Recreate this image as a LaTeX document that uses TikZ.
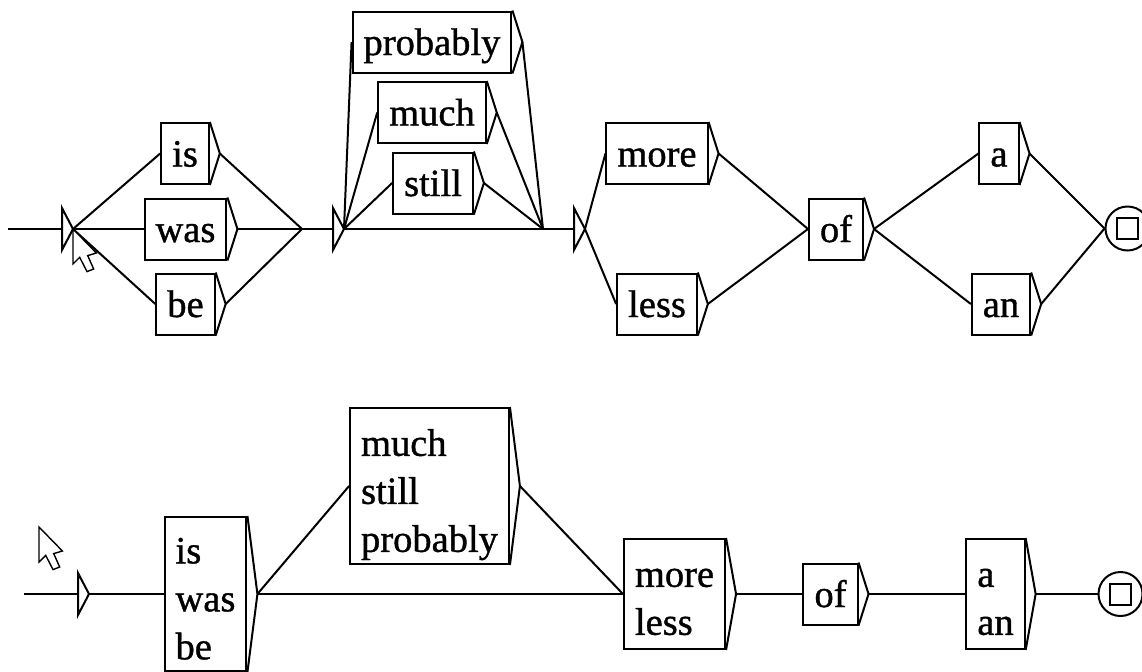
\documentclass[tikz,border=0pt]{standalone}
\usepackage{fontspec}
\setmainfont{Liberation Serif}[FakeBold=1]

\newcommand{\wordfont}{\fontsize{19.25pt}{24pt}\selectfont}
\newcommand{\lift}[1]{\rule{0pt}{#1}}

\tikzset{
  word/.style={draw, rectangle, inner xsep=5.5pt, inner ysep=0pt,
    minimum height=30.5pt, text height=15pt, text depth=2pt, font=\wordfont},
  words/.style={word, align=left, text height=, text depth=},
  final/.style={draw, circle, minimum size=22pt, inner sep=0pt,
    path picture={\draw (path picture bounding box.center)
      +(-5.25pt,-5.25pt) rectangle +(5.25pt,5.25pt);}},
  mousearrow/.pic={
    \draw[fill=white, line width=0.7pt] (0,0) -- (0,35) -- (6.7,28.3)
      -- (14,42.6) -- (20.7,40) -- (14.7,26.6) -- (23.4,24) -- cycle;}
}

\begin{document}
\begin{tikzpicture}[x=0.5pt, y=-0.5pt, line width=1pt]
  \useasboundingbox (0,0) rectangle (1142,671);

  %% Full graph
  \coordinate (entry) at (8,229);
  \coordinate (init) at (62,229);
  \coordinate (e1-in) at (302,229);
  \coordinate (e1) at (333,229);
  \coordinate (e2-in) at (543,229);
  \coordinate (e2) at (574,229);

  \node[word] (is) at (185,153.5) {is};
  \node[word] (was) at (185.5,229) {was};
  \node[word] (be) at (185.5,304) {be};
  \node[word] (probably) at (432,42) {probably};
  \node[word] (much) at (432,112.5) {much};
  \node[word] (still) at (433,183) {still};
  \node[word] (more) at (657,153.5) {more};
  \node[word] (less) at (657,304) {less};
  \node[word] (of) at (836,229) {of};
  \node[word] (a) at (999,153.5) {a};
  \node[word] (an) at (1001,304) {an};
  \node[final] (fin) at (1127.5,228.5) {};

  %% Factorized graph
  \coordinate (entry2) at (24,594);
  \coordinate (init2) at (78,594);

  \node[words, minimum height=77pt] (forms) at (205.5,594)
    {\lift{17.5pt}is\\was\\be};
  \node[words, minimum height=78pt] (adverbs) at (429.5,486)
    {\lift{22pt}much\\still\\probably};
  \node[words, minimum height=55pt] (comp) at (674.5,594)
    {\lift{17pt}more\\less};
  \node[word] (of2) at (830.5,594) {of};
  \node[words, minimum height=55pt] (art) at (995.5,594)
    {\lift{17pt}a\\an};
  \node[final] (fin2) at (1120.5,594) {};

  %% Output triangles
  \foreach \n in {is,was,be,probably,much,still,more,less,of,a,an,
                  forms,adverbs,comp,of2,art} {
    \path (\n.east) ++(10,0) coordinate (\n-tip);
    \draw (\n.north east) -- (\n-tip) -- (\n.south east);
  }

  %% Empty boxes
  \foreach \e in {init,e1,e2,init2} {
    \draw (\e) ++(0,-21) -- ++(11,21) coordinate (\e-out) -- ++(-11,21) -- cycle;
  }

  %% Transitions, full graph
  \draw (entry) -- (init);
  \draw (init-out) -- (is.west);
  \draw (init-out) -- (was.west);
  \draw (init-out) -- (be.west);
  \draw (is-tip) -- (e1-in);
  \draw (was-tip) -- (e1-in);
  \draw (be-tip) -- (e1-in);
  \draw (e1-in) -- (e1);
  \draw (e1-out) -- (probably.west);
  \draw (e1-out) -- (much.west);
  \draw (e1-out) -- (still.west);
  \draw (e1-out) -- (e2-in);
  \draw (probably-tip) -- (e2-in);
  \draw (much-tip) -- (e2-in);
  \draw (still-tip) -- (e2-in);
  \draw (e2-in) -- (e2);
  \draw (e2-out) -- (more.west);
  \draw (e2-out) -- (less.west);
  \draw (more-tip) -- (of.west);
  \draw (less-tip) -- (of.west);
  \draw (of-tip) -- (a.west);
  \draw (of-tip) -- (an.west);
  \draw (a-tip) -- (fin.west);
  \draw (an-tip) -- (fin.west);

  %% Transitions, factorized graph
  \draw (entry2) -- (init2);
  \draw (init2-out) -- (forms.west);
  \draw (forms-tip) -- (adverbs.west);
  \draw (forms-tip) -- (comp.west);
  \draw (adverbs-tip) -- (comp.west);
  \draw (comp-tip) -- (of2.west);
  \draw (of2-tip) -- (art.west);
  \draw (art-tip) -- (fin2.west);

  %% Mouse pointers
  \pic at (73,229) {mousearrow};
  \pic at (39,527) {mousearrow};

\end{tikzpicture}
\end{document}
